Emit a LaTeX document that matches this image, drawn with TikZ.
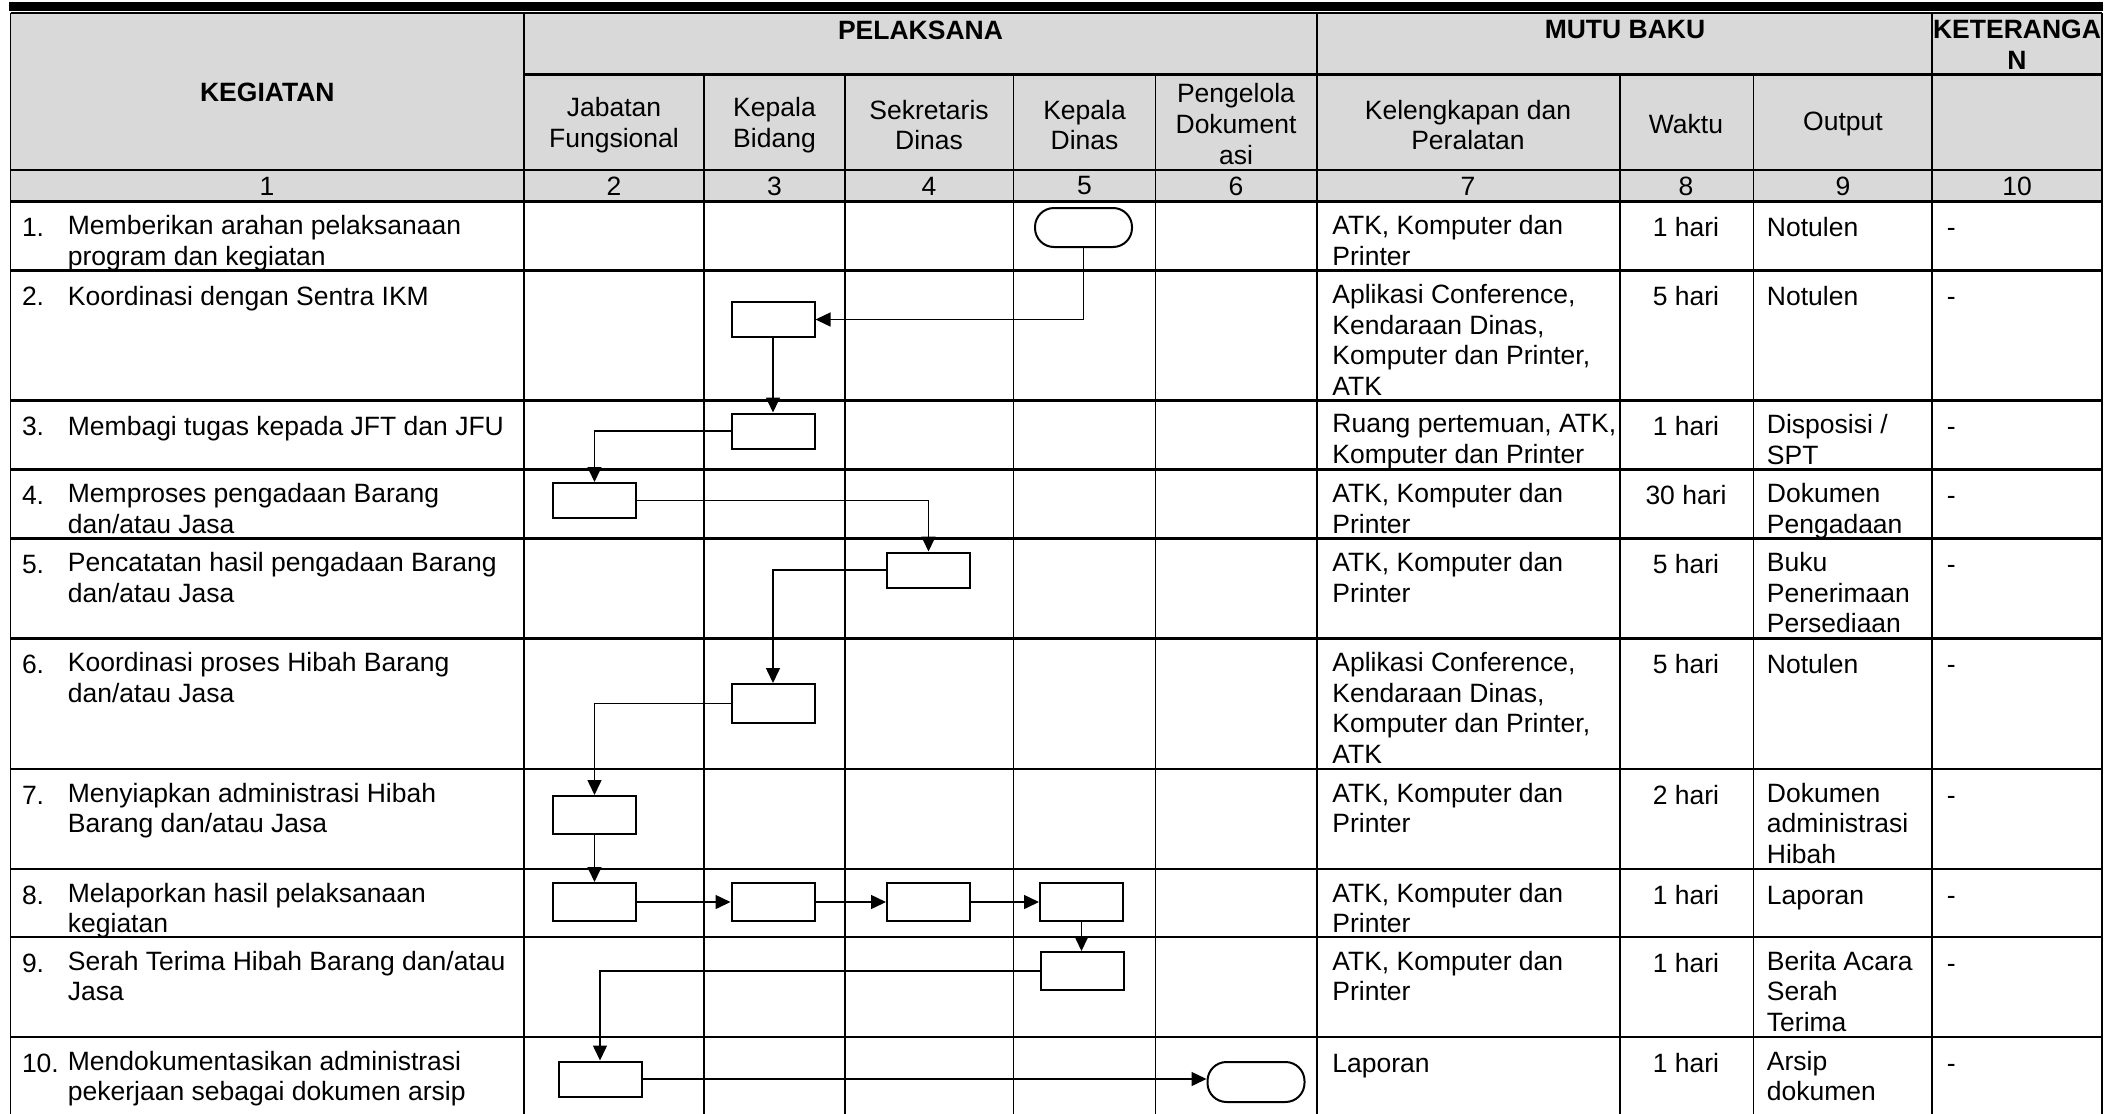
\documentclass[tikz,border=0pt]{standalone}
\usepackage{fontspec}
\setmainfont{Liberation Sans}
\usetikzlibrary{arrows.meta}
\definecolor{sopgray}{HTML}{D9D9D9}
\newcommand{\sopfont}{\fontsize{13.25pt}{15.3pt}\selectfont}
\newcommand{\cstrut}{\rule{0pt}{10.7pt}}

\begin{document}
\begin{tikzpicture}[x=0.5pt,y=-0.5pt, every node/.style={font=\sopfont,inner sep=0pt}]
\tikzset{hd/.style={font=\sopfont\bfseries,align=center}, sub/.style={align=center}, txt/.style={anchor=north west,align=left,execute at begin node=\cstrut}, txtc/.style={anchor=north,align=center,execute at begin node=\cstrut}, rowline/.style={line width=1.1pt}, colline/.style={line width=0.95pt}, proc/.style={draw,line width=1pt,minimum width=41.5pt,minimum height=17.5pt}, term/.style={draw,line width=1pt,rounded corners=9.5pt,minimum width=48.5pt,minimum height=19.5pt}, flow/.style={-{Triangle[length=7.5pt,width=7pt]},line width=0.75pt}}
\useasboundingbox (0,0) rectangle (2116,1114);
% bar and header shading
\fill[black] (9,2) rectangle (2103,10.5);
\fill[sopgray] (10.5,13) rectangle (2102,201.5);
% table lines
\draw[rowline] (10.5,13) -- (2102,13) (524,74.5) -- (2102,74.5) (10.5,170) -- (2102,170) (10.5,201.5) -- (2102,201.5)
  (10.5,270.5) -- (2102,270.5) (10.5,400.5) -- (2102,400.5) (10.5,469.5) -- (2102,469.5) (10.5,538.5) -- (2102,538.5)
  (10.5,638.5) -- (2102,638.5) (10.5,769) -- (2102,769) (10.5,869) -- (2102,869) (10.5,937) -- (2102,937) (10.5,1037) -- (2102,1037);
\draw[colline] (10.5,13) -- (10.5,1114) (524,13) -- (524,1114) (1317,13) -- (1317,1114) (1932,13) -- (1932,1114) (2102,13) -- (2102,1114)
  (704,74.5) -- (704,1114) (845,74.5) -- (845,1114) (1013.5,74.5) -- (1013.5,1114) (1155.5,74.5) -- (1155.5,1114)
  (1620,74.5) -- (1620,1114) (1753.5,74.5) -- (1753.5,1114);

% header
\node[hd] (hkeg) at (267.3,92) {KEGIATAN};
\node[hd] (hpel) at (920.5,30) {PELAKSANA};
\node[hd] (hmutu) at (1625,30) {MUTU BAKU};
\node[hd] (hket) at (2017,45) {KETERANGA\\N};
\node[sub] (hjab) at (614,125) {Jabatan\\Fungsional};
\node[sub] (hkabid) at (774.5,125) {Kepala\\Bidang};
\node[sub] (hsek) at (929,125) {Sekretaris\\Dinas};
\node[sub] (hkadis) at (1084.5,125) {Kepala\\Dinas};
\node[sub] (hpeng) at (1236,124) {Pengelola\\Dokument\\asi};
\node[sub] (hkel) at (1468,125) {Kelengkapan dan\\Peralatan};
\node[sub] (hwak) at (1686,124) {Waktu};
\node[sub] (hout) at (1843,124) {Output};
\node (c1) at (267,186) {1};
\node (c2) at (614,186) {2};
\node (c3) at (774.5,186) {3};
\node (c4) at (929,186) {4};
\node (c5) at (1084.5,186) {5};
\node (c6) at (1236,186) {6};
\node (c7) at (1468,186) {7};
\node (c8) at (1686,186) {8};
\node (c9) at (1843,186) {9};
\node (c10) at (2017,186) {10};

% rows
\node[txt] (n1) at (21.6,215.1) {1.};
\node[txt] (k1) at (67.5,215.1) {Memberikan arahan pelaksanaan\\program dan kegiatan};
\node[txt] (a1) at (1332,215.1) {ATK, Komputer dan\\Printer};
\node[txtc] (w1) at (1686,215.1) {1 hari};
\node[txt] (o1) at (1766.5,215.1) {Notulen};
\node[txt] (r1) at (1946.5,215.1) {-};

\node[txt] (n2) at (21.6,284.1) {2.};
\node[txt] (k2) at (67.5,284.1) {Koordinasi dengan Sentra IKM};
\node[txt] (a2) at (1332,284.1) {Aplikasi Conference,\\Kendaraan Dinas,\\Komputer dan Printer,\\ATK};
\node[txtc] (w2) at (1686,284.1) {5 hari};
\node[txt] (o2) at (1766.5,284.1) {Notulen};
\node[txt] (r2) at (1946.5,284.1) {-};

\node[txt] (n3) at (21.6,414.1) {3.};
\node[txt] (k3) at (67.5,414.1) {Membagi tugas kepada JFT dan JFU};
\node[txt] (a3) at (1332,414.1) {Ruang pertemuan, ATK,\\Komputer dan Printer};
\node[txtc] (w3) at (1686,414.1) {1 hari};
\node[txt] (o3) at (1766.5,414.1) {Disposisi /\\SPT};
\node[txt] (r3) at (1946.5,414.1) {-};

\node[txt] (n4) at (21.6,483.1) {4.};
\node[txt] (k4) at (67.5,483.1) {Memproses pengadaan Barang\\dan/atau Jasa};
\node[txt] (a4) at (1332,483.1) {ATK, Komputer dan\\Printer};
\node[txtc] (w4) at (1686,483.1) {30 hari};
\node[txt] (o4) at (1766.5,483.1) {Dokumen\\Pengadaan};
\node[txt] (r4) at (1946.5,483.1) {-};

\node[txt] (n5) at (21.6,552.1) {5.};
\node[txt] (k5) at (67.5,552.1) {Pencatatan hasil pengadaan Barang\\dan/atau Jasa};
\node[txt] (a5) at (1332,552.1) {ATK, Komputer dan\\Printer};
\node[txtc] (w5) at (1686,552.1) {5 hari};
\node[txt] (o5) at (1766.5,552.1) {Buku\\Penerimaan\\Persediaan};
\node[txt] (r5) at (1946.5,552.1) {-};

\node[txt] (n6) at (21.6,652.1) {6.};
\node[txt] (k6) at (67.5,652.1) {Koordinasi proses Hibah Barang\\dan/atau Jasa};
\node[txt] (a6) at (1332,652.1) {Aplikasi Conference,\\Kendaraan Dinas,\\Komputer dan Printer,\\ATK};
\node[txtc] (w6) at (1686,652.1) {5 hari};
\node[txt] (o6) at (1766.5,652.1) {Notulen};
\node[txt] (r6) at (1946.5,652.1) {-};

\node[txt] (n7) at (21.6,782.6) {7.};
\node[txt] (k7) at (67.5,782.6) {Menyiapkan administrasi Hibah\\Barang dan/atau Jasa};
\node[txt] (a7) at (1332,782.6) {ATK, Komputer dan\\Printer};
\node[txtc] (w7) at (1686,782.6) {2 hari};
\node[txt] (o7) at (1766.5,782.6) {Dokumen\\administrasi\\Hibah};
\node[txt] (r7) at (1946.5,782.6) {-};

\node[txt] (n8) at (21.6,882.6) {8.};
\node[txt] (k8) at (67.5,882.6) {Melaporkan hasil pelaksanaan\\kegiatan};
\node[txt] (a8) at (1332,882.6) {ATK, Komputer dan\\Printer};
\node[txtc] (w8) at (1686,882.6) {1 hari};
\node[txt] (o8) at (1766.5,882.6) {Laporan};
\node[txt] (r8) at (1946.5,882.6) {-};

\node[txt] (n9) at (21.6,950.6) {9.};
\node[txt] (k9) at (67.5,950.6) {Serah Terima Hibah Barang dan/atau\\Jasa};
\node[txt] (a9) at (1332,950.6) {ATK, Komputer dan\\Printer};
\node[txtc] (w9) at (1686,950.6) {1 hari};
\node[txt] (o9) at (1766.5,950.6) {Berita Acara\\Serah\\Terima};
\node[txt] (r9) at (1946.5,950.6) {-};

\node[txt] (n10) at (21.6,1050.6) {10.};
\node[txt] (k10) at (67.5,1050.6) {Mendokumentasikan administrasi\\pekerjaan sebagai dokumen arsip};
\node[txt] (a10) at (1332,1050.6) {Laporan};
\node[txtc] (w10) at (1686,1050.6) {1 hari};
\node[txt] (o10) at (1766.5,1050.6) {Arsip\\dokumen};
\node[txt] (r10) at (1946.5,1050.6) {-};

% flow
\node[term] (s1) at (1083.5,227.5) {};
\node[proc] (b2) at (773,319.5) {};
\node[proc] (b3) at (773,431) {};
\node[proc] (b4) at (594.5,500.5) {};
\node[proc] (b5) at (928.5,570) {};
\node[proc,minimum height=19.5pt] (b6) at (773,703.5) {};
\node[proc,minimum height=19pt] (b7) at (594.5,815) {};
\node[proc,minimum height=19pt] (b8a) at (594.5,902) {};
\node[proc,minimum height=19pt] (b8b) at (773,902) {};
\node[proc,minimum height=19pt] (b8c) at (928.5,902) {};
\node[proc,minimum height=19pt] (b8d) at (1081.5,902) {};
\node[proc,minimum height=19pt] (b9) at (1082.5,971) {};
\node[proc] (b10) at (600,1079) {};
\node[term,minimum height=20pt] (s10) at (1256,1082) {};
\draw[flow] (s1.south) |- (b2.east);
\draw[flow] (b2.south) -- (b3.north);
\draw[flow] (b3.west) -| (b4.north);
\draw[flow] (b4.east) -| (b5.north);
\draw[flow] (b5.west) -| (b6.north);
\draw[flow] (b6.west) -| (b7.north);
\draw[flow] (b7.south) -- (b8a.north);
\draw[flow] (b8a.east) -- (b8b.west);
\draw[flow] (b8b.east) -- (b8c.west);
\draw[flow] (b8c.east) -- (b8d.west);
\draw[flow] (b8d.south) -- (b8d.south |- b9.north);
\draw[flow] (b9.west) -| (b10.north);
\draw[flow] (b10.east) -- (b10.east -| s10.west);
\end{tikzpicture}
\end{document}
